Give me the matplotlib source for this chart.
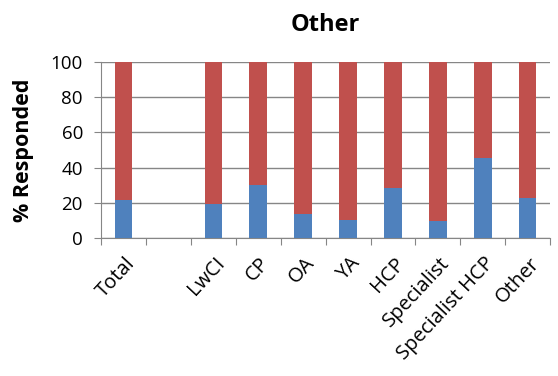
import matplotlib
matplotlib.use('Agg')
import matplotlib.pyplot as plt

# categories (second slot is an empty gap in the original chart)
categories = ['Total', '', 'LwCI', 'CP', 'OA', 'YA', 'HCP', 'Specialist', 'Specialist HCP', 'Other']
# percent responded "yes" (blue) per category, None for the gap
yes_pct = [21.4, None, 19.5, 29.9, 13.8, 10.4, 28.6, 9.5, 45.5, 22.9]

plt.rcParams['font.family'] = ['Open Sans', 'DejaVu Sans']

fig = plt.figure(figsize=(5.58, 3.76), dpi=100)
ax = fig.add_axes([0.181, 0.367, 0.805, 0.468])

x = list(range(len(categories)))
blue = [v if v is not None else 0 for v in yes_pct]
red = [100 - v if v is not None else 0 for v in yes_pct]

ax.bar(x, blue, width=0.39, color='#4F81BD', zorder=3)
ax.bar(x, red, width=0.39, bottom=blue, color='#C0504D', zorder=3)

ax.set_xlim(-0.5, len(categories) - 0.5)
ax.set_ylim(0, 100)
ax.set_yticks(range(0, 101, 20))
ax.tick_params(axis='y', labelsize=13.5, length=5, color='#868686', pad=8)
ax.set_xticks([i - 0.5 for i in range(len(categories) + 1)], minor=False)
ax.set_xticklabels([])
ax.set_xticks([i + 0.02 for i in x], minor=True)
ax.set_xticklabels(categories, minor=True, rotation=47, ha='right', rotation_mode='anchor', fontsize=14.5)
ax.tick_params(axis='x', which='major', length=5, color='#868686')
ax.tick_params(axis='x', which='minor', length=0, pad=11)

ax.grid(axis='y', color='#868686', linewidth=1, zorder=0)
for side in ['top', 'right']:
    ax.spines[side].set_visible(False)
for side in ['left', 'bottom']:
    ax.spines[side].set_color('#868686')

ax.set_ylabel('% Responded', fontsize=15.5, fontweight='bold', labelpad=12)
ax.set_title('Other', fontsize=17, fontweight='bold', pad=22)

fig.savefig('out.png', dpi=100)
